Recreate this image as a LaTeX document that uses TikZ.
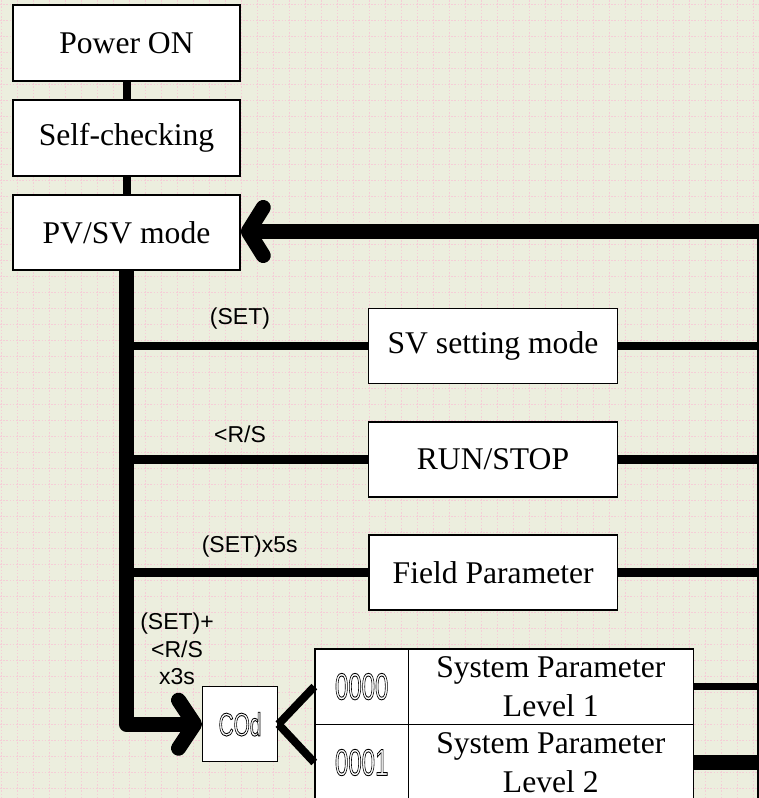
\documentclass[tikz,border=0pt]{standalone}
\usepackage{fontspec}
\usepackage{graphicx}
\setmainfont{Liberation Serif}
\newfontfamily\labfont{Liberation Sans}
\newfontfamily\segfont{Liberation Sans}
\usetikzlibrary{calc}

\definecolor{paper}{RGB}{236,238,222}
\definecolor{gridpink}{RGB}{245,205,215}

% hollow (stroked) glyphs, used for the segment-display codes
\newcommand{\hollowtext}[1]{\special{pdf:literal 1 Tr 0.9 w}#1\special{pdf:literal 0 Tr}}
\newcommand{\segcode}[2]{{\segfont\fontsize{#1}{#1}\selectfont\scalebox{0.64}[1]{\hollowtext{#2}}}}

\tikzset{
  box/.style={draw, line width=1.5pt, fill=white, inner sep=0pt, align=center,
              font=\fontsize{31.6}{38.5}\selectfont},
  gridline/.style={gridpink, line width=1.2pt, dash pattern=on 1.6pt off 1.6pt},
  link/.style={line width=8pt},
  branch/.style={line width=8.5pt},
  fatline/.style={line width=15pt, line join=round},
  chevron/.style={line width=15pt, line cap=round, line join=round},
  lab/.style={font=\labfont\fontsize{23}{27.5}\selectfont, align=center, inner sep=0pt},
}

\begin{document}
\begin{tikzpicture}[x=1pt, y=-1pt]
  % paper and dotted grid
  \fill[paper] (0,0) rectangle (759,798);
  \useasboundingbox (0,0) rectangle (759,798);
  \foreach \gx in {1.7,17.7,...,759} \draw[gridline] (\gx,0) -- (\gx,798);
  \foreach \gy in {4.7,20.7,...,798} \draw[gridline] (0,\gy) -- (759,\gy);

  % start-up chain
  \node[box, minimum width=227pt, minimum height=76pt] (pon)  at (126.5,43)  {Power ON};
  \node[box, minimum width=227pt, minimum height=76pt] (self) at (126.5,138) {Self-checking};
  \node[box, minimum width=227pt, minimum height=75pt] (pv)   at (126.5,232.5) {PV/SV mode};

  % operating modes
  \node[box, minimum width=249.4pt, minimum height=75pt] (sv)    at (493,345.8) {SV setting mode};
  \node[box, minimum width=249.4pt, minimum height=75pt] (run)   at (493,459.5) {RUN/STOP};
  \node[box, minimum width=248.5pt, minimum height=75pt] (field) at (493.2,572.5) {Field Parameter};

  % password entry and system parameter levels
  \node[box, minimum width=75.4pt, minimum height=75pt] (cod) at (240,724.2) {\segcode{32.5}{COd}};
  \node[box, minimum width=93.3pt, minimum height=75.3pt] (c1) at (361.7,686.6) {\segcode{37.5}{0000}};
  \node[box, minimum width=285pt,  minimum height=75.3pt] (l1) at (550.8,686.6) {System Parameter\\Level 1};
  \node[box, minimum width=93.3pt, minimum height=76.4pt] (c2) at (361.7,762.5) {\segcode{37.5}{0001}};
  \node[box, minimum width=285pt,  minimum height=76.4pt] (l2) at (550.8,762.5) {System Parameter\\Level 2};

  % chain links
  \draw[link] (pon) -- (self);
  \draw[link] (self) -- (pv);

  % right-hand return bus
  \coordinate (busx) at (759,0);
  \draw[line width=2pt] (758.2,225) -- (758.2,800);

  % main trunk down to the code entry
  \coordinate (codtip) at ($(cod.west)+(-7,0)$);
  \draw[fatline] (pv.south) |- (codtip);
  \draw[chevron] ($(codtip)+(-16,-24)$) -- (codtip) -- ($(codtip)+(-16,24)$);

  % return to PV/SV mode
  \coordinate (pvtip) at ($(pv.east)+(7.5,-1)$);
  \draw[fatline] (pv.east -| busx) ++(0,-1) -- (pvtip);
  \draw[chevron] ($(pvtip)+(15,-24)$) -- (pvtip) -- ($(pvtip)+(15,24)$);

  % branches from the trunk
  \coordinate (j1) at (127,345.8);
  \coordinate (j2) at (127,459.5);
  \coordinate (j3) at (127,572.5);
  \draw[branch] (j1) -- (sv.west);
  \draw[branch] (j2) -- (run.west);
  \draw[branch] (j3) -- (field.west);

  % back to the bus
  \draw[branch] (sv.east) -- (sv.east -| busx);
  \draw[branch] (run.east) -- (run.east -| busx);
  \draw[branch] (field.east) -- (field.east -| busx);
  \draw[line width=7.5pt] (l1.east) -- (l1.east -| busx);
  \draw[line width=15pt] (l2.east) -- (l2.east -| busx);

  % code selection
  \draw[link] (cod.east) -- (c1.west);
  \draw[link] (cod.east) -- (c2.west);

  % key labels
  \node[lab] at (240,319) {(SET)};
  \node[lab] at (240,434) {<R/S};
  \node[lab] at (249.7,546.7) {(SET)x5s};
  \node[lab] at (177,649) {(SET)+\\<R/S\\x3s};
\end{tikzpicture}
\end{document}
